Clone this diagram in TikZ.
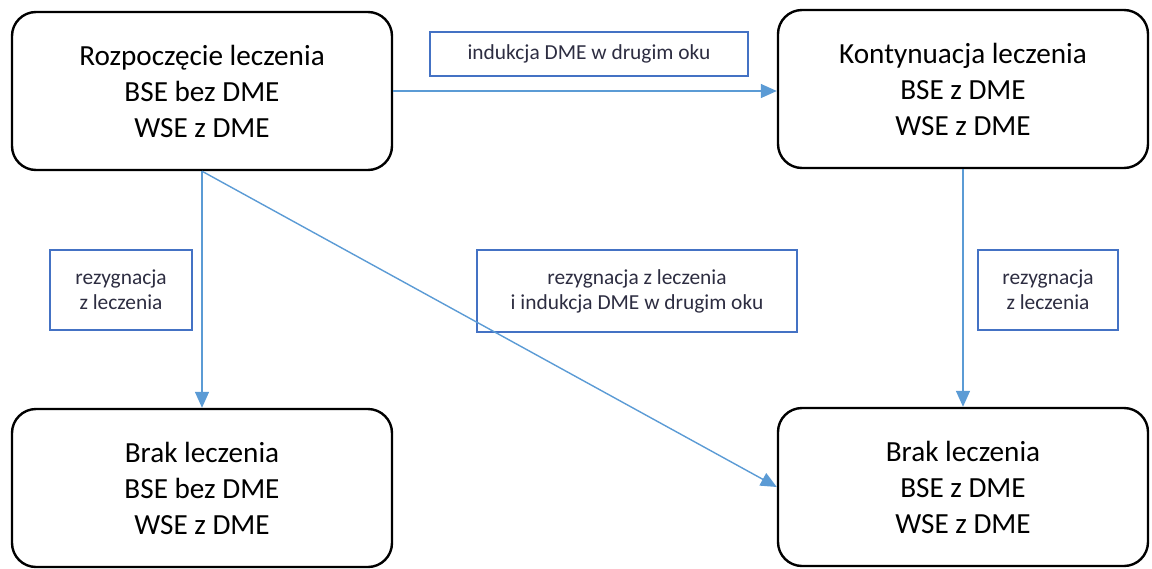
\documentclass[tikz,border=0pt]{standalone}
\usepackage{fontspec}
\setmainfont{Carlito}
\usetikzlibrary{arrows.meta}
\definecolor{arrowblue}{RGB}{91,155,213}
\definecolor{labelblue}{RGB}{68,114,196}
\definecolor{labeltext}{RGB}{45,45,65}

\begin{document}
\begin{tikzpicture}[x=0.5pt, y=-0.5pt,
    stateBox/.style={draw, line width=1.2pt, rounded corners=12pt, minimum height=79pt, align=center, font=\fontsize{14.6}{18}\selectfont},
    labelBox/.style={draw=labelblue, line width=1pt, inner sep=0pt, align=center, text=labeltext, font=\fontsize{10.7}{12.5}\selectfont},
    flowArrow/.style={arrowblue, line width=0.7pt, -{Triangle[length=8pt, width=7pt]}}]
    \useasboundingbox (0,0) rectangle (1152,568);

    % Draw the four states
    \node[stateBox, minimum width=190pt] (Start) at (202,91) {Rozpoczęcie leczenia\\BSE bez DME\\WSE z DME};
    \node[stateBox, minimum width=185pt] (Cont) at (963,89) {Kontynuacja leczenia\\BSE z DME\\WSE z DME};
    \node[stateBox, minimum width=190pt] (StopA) at (202,488) {Brak leczenia\\BSE bez DME\\WSE z DME};
    \node[stateBox, minimum width=185pt] (StopB) at (963,487) {Brak leczenia\\BSE z DME\\WSE z DME};

    % Optional: transition labels
    \node[labelBox, minimum width=159pt, minimum height=22pt] (LblInd) at (589,54) {indukcja DME w drugim oku};
    \node[labelBox, minimum width=71pt, minimum height=40pt] (LblRezA) at (121,290) {rezygnacja\\z leczenia};
    \node[labelBox, minimum width=160pt, minimum height=41pt] (LblRezInd) at (637,291) {rezygnacja z leczenia\\i indukcja DME w drugim oku};
    \node[labelBox, minimum width=70pt, minimum height=40pt] (LblRezB) at (1048,290) {rezygnacja\\z leczenia};

    % Connect the states
    \draw[flowArrow] (Start.east) -- (Start.east -| Cont.west);
    \draw[flowArrow] (Start.south) -- (StopA.north);
    \draw[flowArrow] (Cont.south) -- (StopB.north);
    \draw[flowArrow] (Start.south) -- (StopB.west);
\end{tikzpicture}
\end{document}
